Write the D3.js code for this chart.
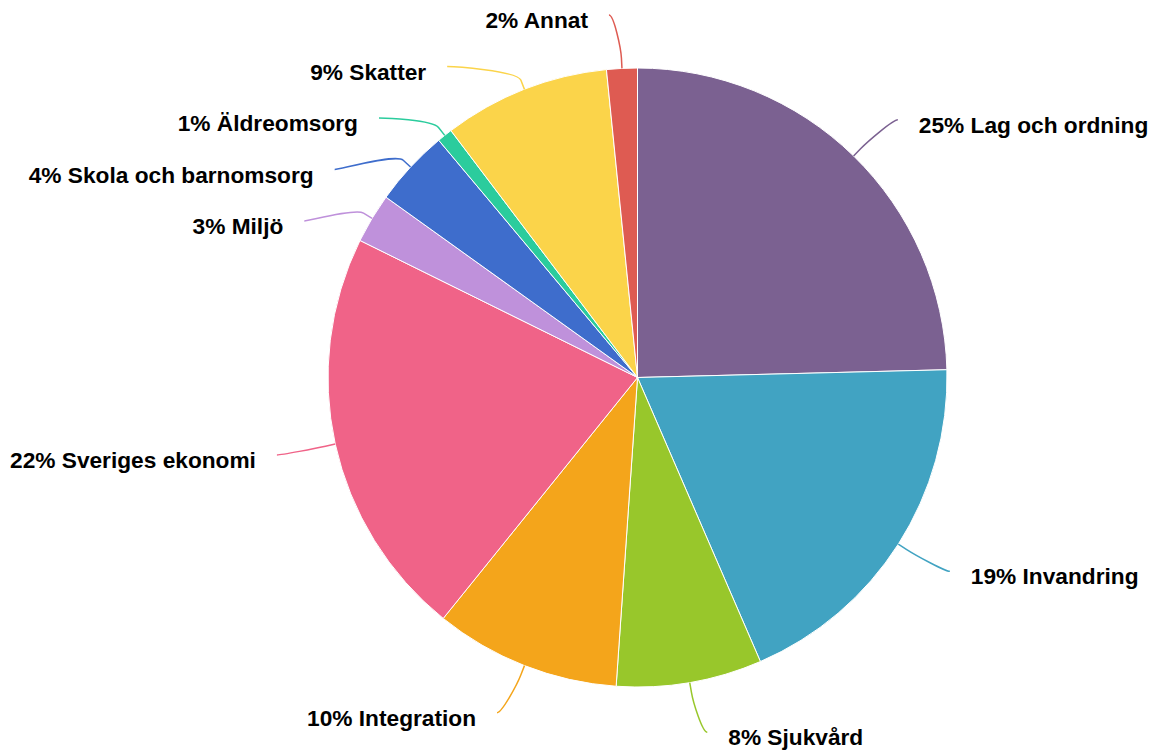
<!DOCTYPE html>
<html>
<head>
<meta charset="utf-8">
<script src="https://cdn.jsdelivr.net/npm/d3@7"></script>
<style>
  html, body { margin: 0; padding: 0; background: #fff; }
</style>
</head>
<body>
<svg></svg>
<script>
// topics and their share of answers (percent)
const topics = ["Lag och ordning", "Invandring", "Sjukvård", "Integration", "Sveriges ekonomi",
                "Miljö", "Skola och barnomsorg", "Äldreomsorg", "Skatter", "Annat"];
const shares = [24.6, 18.9, 7.6, 9.7, 21.5, 2.6, 4.0, 0.8, 8.7, 1.6];
const colors = ["#7B6191", "#41A3C2", "#98C72B", "#F4A51B", "#F06388",
                "#BF91DB", "#3E6DCC", "#2BCC9D", "#FBD44A", "#DE5B52"];

function drawPie() {
    let width = 1159;
    let height = 755;
    let cx = 637.5, cy = 377.5;
    let radius = 309.5;
    let labelRadius = 360;   // ring the label anchors sit on
    let spacing = 51.5;      // min vertical distance between labels
    let minY = 15, maxY = 740;

    let svg = d3.select("svg")
        .attr("width", width)
        .attr("height", height);

    let g = svg.append("g")
        .attr("transform", "translate(" + cx + "," + cy + ")");

    let pie = d3.pie().sort(null).value(d => d);
    let arcs = pie(shares);
    let arc = d3.arc().innerRadius(0).outerRadius(radius);

    g.selectAll("path.slice")
        .data(arcs)
        .join("path")
        .attr("class", "slice")
        .attr("d", arc)
        .attr("fill", (d, i) => colors[i])
        .attr("stroke", "#fff")
        .attr("stroke-width", 1)
        .attr("stroke-linejoin", "round");

    // label positions (relative to center)
    let items = arcs.map((d, i) => {
        let a = (d.startAngle + d.endAngle) / 2;
        return {
            i: i,
            a: a,
            left: a > Math.PI,
            target: -Math.cos(a) * labelRadius,
            touch: [Math.sin(a) * radius, -Math.cos(a) * radius],
            brk: [Math.sin(a) * (radius + 10), -Math.cos(a) * (radius + 10)]
        };
    });

    // spread overlapping labels on each side
    function distribute(list) {
        list.sort((p, q) => p.target - q.target);
        let clusters = [];
        list.forEach(p => {
            clusters.push({ members: [p] });
            while (true) {
                let c = clusters[clusters.length - 1];
                let n = c.members.length;
                let mean = d3.mean(c.members, m => m.target);
                let start = mean - (n - 1) * spacing / 2;
                start = Math.max(minY - cy, Math.min(maxY - cy - (n - 1) * spacing, start));
                c.start = start;
                let prev = clusters[clusters.length - 2];
                if (prev && prev.start + prev.members.length * spacing > start) {
                    prev.members = prev.members.concat(c.members);
                    clusters.pop();
                } else break;
            }
        });
        clusters.forEach(c => c.members.forEach((m, k) => { m.y = c.start + k * spacing; }));
    }
    distribute(items.filter(d => !d.left));
    distribute(items.filter(d => d.left));

    items.forEach(d => {
        let dy = d.y;
        let off = Math.sqrt(Math.max(0, labelRadius * labelRadius - dy * dy)) + 9;
        off = Math.max(off, Math.abs(d.touch[0]) + 13);
        d.x = d.left ? -off : off;
    });

    // connectors
    g.selectAll("path.connector")
        .data(items)
        .join("path")
        .attr("class", "connector")
        .attr("fill", "none")
        .attr("stroke", d => colors[d.i])
        .attr("stroke-width", 1.5)
        .attr("d", d => {
            let c1x = d.x + (d.left ? 5 : -5);
            let c2 = [2 * d.brk[0] - d.touch[0], 2 * d.brk[1] - d.touch[1]];
            return "M" + d.x + "," + d.y +
                "C" + c1x + "," + d.y + " " + c2[0] + "," + c2[1] + " " + d.brk[0] + "," + d.brk[1] +
                "L" + d.touch[0] + "," + d.touch[1];
        });

    // labels
    g.selectAll("text.label")
        .data(items)
        .join("text")
        .attr("class", "label")
        .attr("x", d => d.x + (d.left ? -21 : 21))
        .attr("y", d => d.y + 13)
        .attr("text-anchor", d => d.left ? "end" : "start")
        .attr("font-family", "'Liberation Sans', Arial, Helvetica, sans-serif")
        .attr("font-weight", "bold")
        .attr("font-size", "22.7px")
        .attr("fill", "#000")
        .text(d => Math.round(shares[d.i]) + "% " + topics[d.i]);
}
drawPie();
</script>
</body>
</html>
